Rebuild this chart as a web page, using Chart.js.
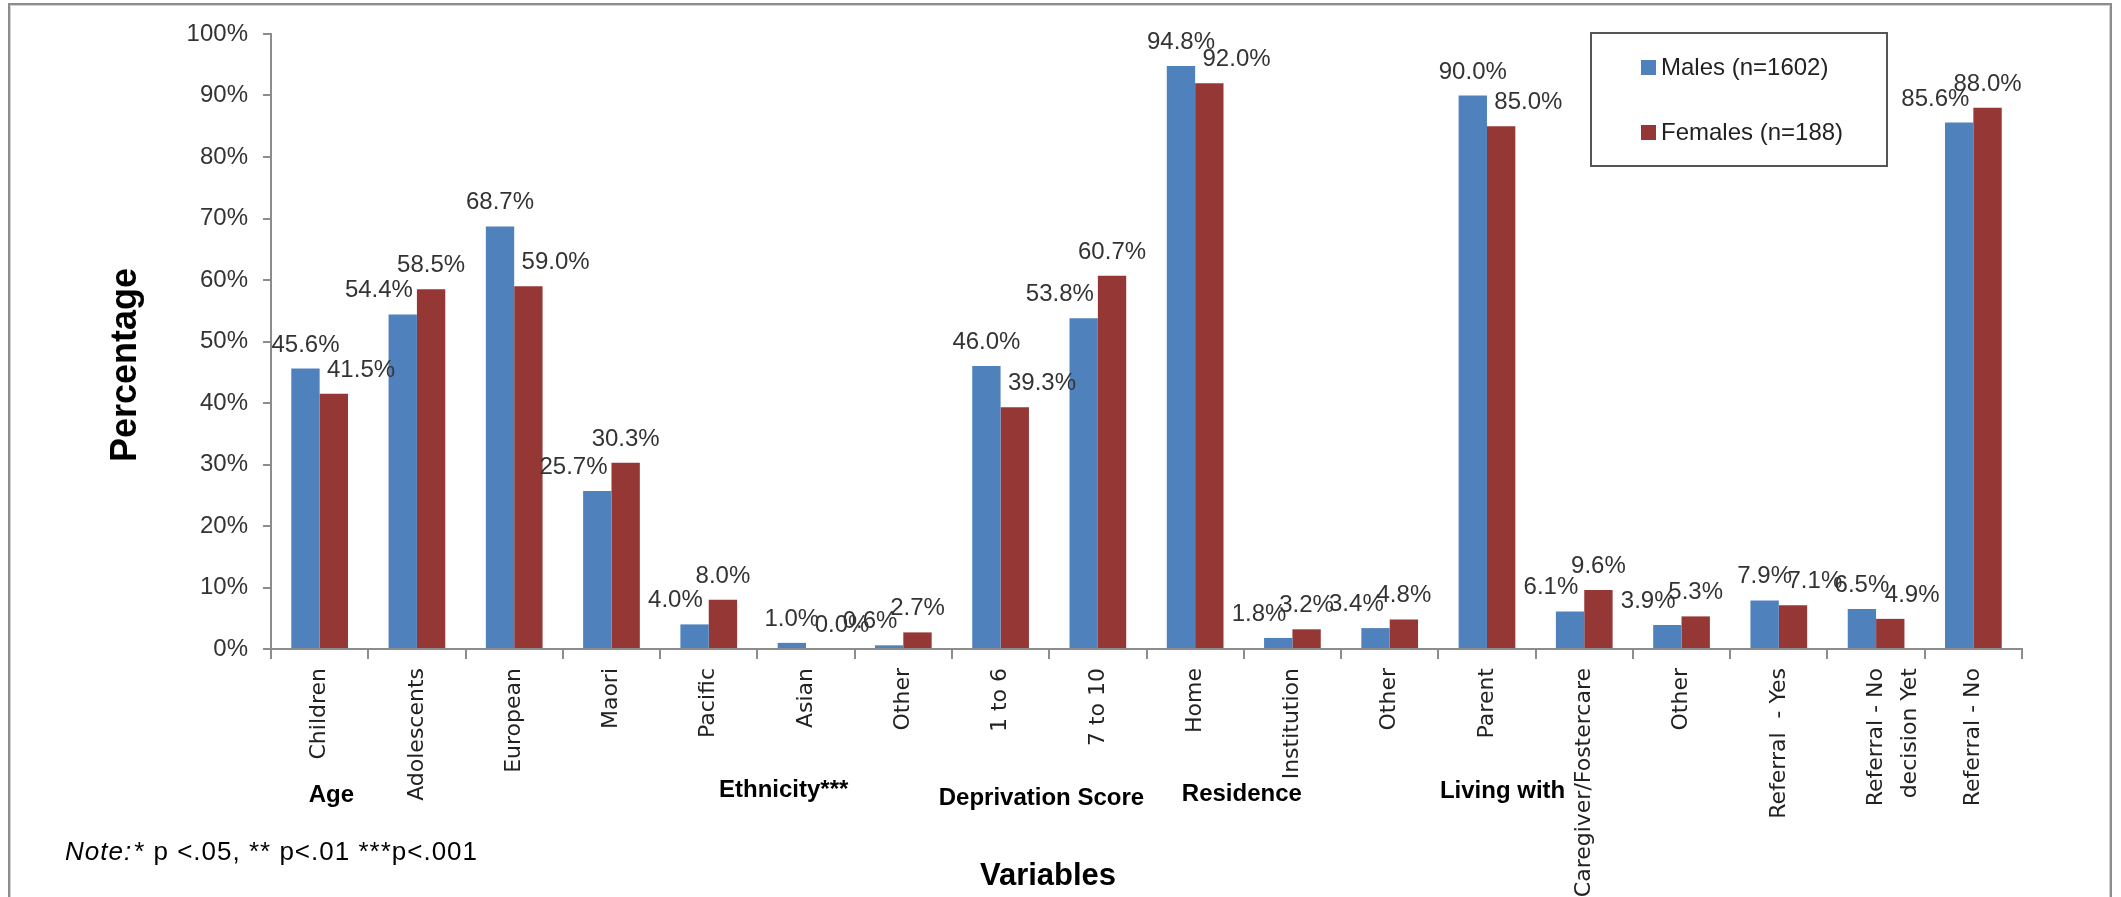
<!DOCTYPE html>
<html>
<head>
<meta charset="utf-8">
<script src="https://cdn.jsdelivr.net/npm/chart.js@4.4.0/dist/chart.umd.min.js"></script>
<style>
  html, body { margin: 0; padding: 0; background: #fff; overflow: hidden; }
  #wrap { position: absolute; left: 0; top: 0; width: 2121px; height: 960px; }
  #frame {
    position: absolute; left: 8px; top: 3px; width: 2100px; height: 1000px;
    border: 2px solid #8c8c8c; box-shadow: inset 0 0 0 1px #d4d4d4; pointer-events: none;
  }
</style>
</head>
<body>
<div id="wrap"><canvas id="grafico"></canvas></div>
<div id="frame"></div>
<script>
// categories on the x axis (multi-line label as an array)
const categories = [
  "Children", "Adolescents", "European", "Maori", "Pacific", "Asian", "Other",
  "1 to 6", "7 to 10", "Home", "Institution", "Other", "Parent",
  "Caregiver/Fostercare", "Other", "Referral  - Yes",
  ["Referral - No", "decision Yet"], "Referral - No"
];

const seriesNames = ["Males (n=1602)", "Females (n=188)"];

// percentages per category
const males = [45.6, 54.4, 68.7, 25.7, 4.0, 1.0, 0.6, 46.0, 53.8, 94.8, 1.8, 3.4, 90.0, 6.1, 3.9, 7.9, 6.5, 85.6];
const females = [41.5, 58.5, 59.0, 30.3, 8.0, 0.0, 2.7, 39.3, 60.7, 92.0, 3.2, 4.8, 85.0, 9.6, 5.3, 7.1, 4.9, 88.0];

const yTicks = [0, 10, 20, 30, 40, 50, 60, 70, 80, 90, 100];

// variable group names written under the axis labels
const groupNames = ["Age", "Ethnicity***", "Deprivation Score", "Residence", "Living with"];

const colors = ["#4F81BD", "#953735"];
const axisColor = "#8c8c8c";
const sans = '"Liberation Sans", Arial, sans-serif';

// value labels above each bar; the label of the shorter bar in a pair is pushed outward
const barLabels = {
  id: "barLabels",
  afterDatasetsDraw(chart) {
    const ctx = chart.ctx;
    const m = chart.getDatasetMeta(0).data;
    const f = chart.getDatasetMeta(1).data;
    ctx.save();
    ctx.font = "24px " + sans;
    ctx.fillStyle = "#333";
    ctx.textAlign = "center";
    ctx.textBaseline = "alphabetic";
    m.forEach((bm, i) => {
      const bf = f[i];
      const tm = males[i].toFixed(1) + "%";
      const tf = females[i].toFixed(1) + "%";
      const wm = ctx.measureText(tm).width;
      const wf = ctx.measureText(tf).width;
      let xm = bm.x, xf = bf.x;
      const ym = bm.y - 17, yf = bf.y - 17;
      if (males[i] < females[i]) xm -= wm * 0.35;
      else xf += wf * 0.4;
      ctx.fillText(tm, xm, ym);
      ctx.fillText(tf, xf, yf);
    });
    ctx.restore();
  }
};

// axis titles, group names, note and legend box
const extras = {
  id: "extras",
  afterDraw(chart, args, opts) {
    const ctx = chart.ctx;
    const area = chart.chartArea;
    const step = (area.right - area.left) / categories.length;
    ctx.save();
    ctx.fillStyle = "#000";
    ctx.textBaseline = "middle";

    // y title
    ctx.save();
    ctx.translate(126, 365);
    ctx.rotate(-Math.PI / 2);
    ctx.textAlign = "center";
    ctx.font = "bold 36px " + sans;
    ctx.fillText("Percentage", 0, 0);
    ctx.restore();

    // x title
    ctx.textAlign = "center";
    ctx.font = "bold 31px " + sans;
    ctx.fillText("Variables", 1048, 876);

    // group names
    ctx.font = "bold 24px " + sans;
    groupNames.forEach((g, i) => {
      const p = opts.groups[i];
      ctx.fillText(g, area.left + p[0] * step, p[1]);
    });

    // note
    ctx.textAlign = "left";
    ctx.letterSpacing = "1px";
    ctx.font = "italic 26px " + sans;
    ctx.fillText("Note:", 65, 853);
    const nw = ctx.measureText("Note:").width;
    ctx.font = "26px " + sans;
    ctx.fillText("* p <.05, ** p<.01 ***p<.001", 65 + nw + 2, 853);
    ctx.letterSpacing = "0px";

    // legend
    const L = opts.legend;
    ctx.fillStyle = "#fff";
    ctx.fillRect(L.x, L.y, L.w, L.h);
    ctx.strokeStyle = "#555";
    ctx.lineWidth = 2;
    ctx.strokeRect(L.x, L.y, L.w, L.h);
    ctx.font = "24px " + sans;
    seriesNames.forEach((s, i) => {
      const cy = L.y + L.rows[i];
      ctx.fillStyle = colors[i];
      ctx.fillRect(L.x + 50, cy - 8, 15, 15);
      ctx.fillStyle = "#222";
      ctx.fillText(s, L.x + 70, cy);
    });
    ctx.restore();
  }
};

const ctx = document.getElementById("grafico").getContext("2d");
new Chart(ctx, {
  type: "bar",
  data: {
    labels: categories,
    datasets: [
      { label: seriesNames[0], data: males, backgroundColor: colors[0], categoryPercentage: 0.583, barPercentage: 1 },
      { label: seriesNames[1], data: females, backgroundColor: colors[1], categoryPercentage: 0.583, barPercentage: 1 }
    ]
  },
  options: {
    responsive: true,
    maintainAspectRatio: false,
    animation: false,
    layout: { padding: { left: 0, top: 34, right: 99, bottom: 0 } },
    plugins: {
      legend: { display: false },
      tooltip: { enabled: false },
      extras: {
        groups: [[0.62, 795], [5.27, 790], [7.92, 798], [9.98, 794], [12.66, 791]],
        legend: { x: 1591, y: 33, w: 296, h: 133, rows: [35, 100] }
      }
    },
    scales: {
      x: {
        grid: { offset: true, drawOnChartArea: false, tickLength: 10, color: axisColor, lineWidth: 2 },
        border: { color: axisColor, width: 2 },
        ticks: {
          autoSkip: false, maxRotation: 90, minRotation: 90, padding: 9,
          color: "#222", font: { family: '"DejaVu Sans", Verdana, sans-serif', size: 22, lineHeight: 1.55 }
        },
        afterFit: (s) => { s.height = 311; }
      },
      y: {
        min: 0, max: 100,
        afterBuildTicks: (s) => { s.ticks = yTicks.map((v) => ({ value: v })); },
        grid: { drawOnChartArea: false, tickLength: 8, color: axisColor, lineWidth: 2 },
        border: { color: axisColor, width: 2 },
        ticks: { padding: 15, color: "#333", font: { family: sans, size: 24 }, callback: (v) => v + "%" },
        afterFit: (s) => { s.width = 271; }
      }
    }
  },
  plugins: [barLabels, extras]
});
</script>
</body>
</html>
